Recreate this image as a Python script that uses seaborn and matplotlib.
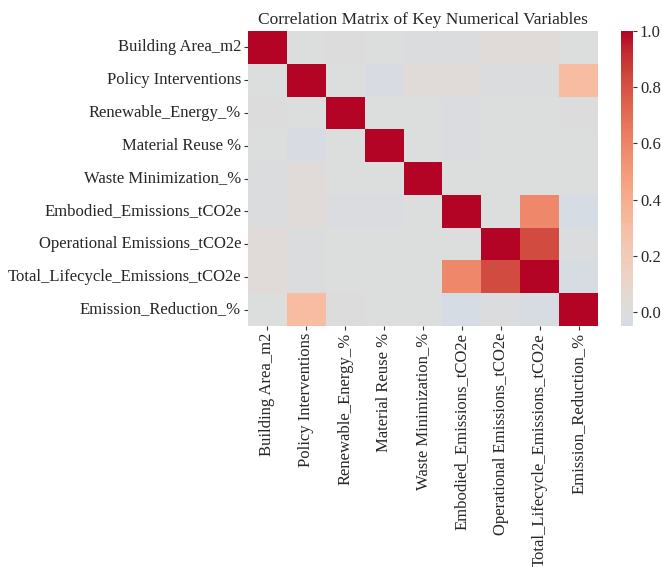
import numpy as np
import pandas as pd
import matplotlib
matplotlib.use("Agg")
import matplotlib.pyplot as plt
import seaborn as sns

labels = [
    "Building Area_m2",
    "Policy Interventions",
    "Renewable_Energy_%",
    "Material Reuse %",
    "Waste Minimization_%",
    "Embodied_Emissions_tCO2e",
    "Operational Emissions_tCO2e",
    "Total_Lifecycle_Emissions_tCO2e",
    "Emission_Reduction_%",
]

# Upper-triangle correlation coefficients: each row lists the values to the
# right of the diagonal (the diagonal itself is 1.0)
row_building = [0.00, 0.01, 0.00, -0.01, -0.01, 0.03, 0.03, 0.00]
row_policy = [0.00, -0.03, 0.03, 0.03, -0.01, -0.01, 0.31]
row_renewable = [0.00, 0.00, -0.02, 0.00, 0.00, 0.01]
row_material = [0.00, -0.02, 0.00, 0.00, 0.00]
row_waste = [0.00, 0.00, 0.00, 0.00]
row_embodied = [0.00, 0.58, -0.05]
row_operational = [0.82, -0.01]
row_total = [-0.04]

upper_rows = [row_building, row_policy, row_renewable, row_material,
              row_waste, row_embodied, row_operational, row_total]

n = len(labels)
corr = np.eye(n)
for i, row in enumerate(upper_rows):
    for k, v in enumerate(row):
        j = i + 1 + k
        corr[i, j] = v
        corr[j, i] = v

df = pd.DataFrame(corr, index=labels, columns=labels)

sns.set_theme(style="white")
plt.rcParams["font.family"] = ["Liberation Serif", "DejaVu Serif"]

fig = plt.figure(figsize=(6.62, 5.67), dpi=100)
ax = fig.add_axes([248 / 662, 1 - 326 / 567, 350 / 662, 295 / 567])
cax = fig.add_axes([621 / 662, 1 - 326 / 567, 12 / 662, 295 / 567])

sns.heatmap(df, ax=ax, cbar_ax=cax, cmap="coolwarm", center=0,
            xticklabels=True, yticklabels=True)

ax.set_title("Correlation Matrix of Key Numerical Variables", fontsize=12.5, pad=5)
ax.tick_params(axis="both", length=3, width=0.8, color="#333333", labelsize=12, pad=2)
ax.tick_params(axis="x", bottom=True)
ax.tick_params(axis="y", left=True)
plt.setp(ax.get_xticklabels(), rotation=90)
plt.setp(ax.get_yticklabels(), rotation=0)
cax.tick_params(labelsize=12, length=3, width=0.8, color="#333333", right=True, pad=2)
cax.set_yticks([0.0, 0.2, 0.4, 0.6, 0.8, 1.0])
cax.set_yticklabels(["0.0", "0.2", "0.4", "0.6", "0.8", "1.0"])

fig.savefig("out.png", dpi=100)
